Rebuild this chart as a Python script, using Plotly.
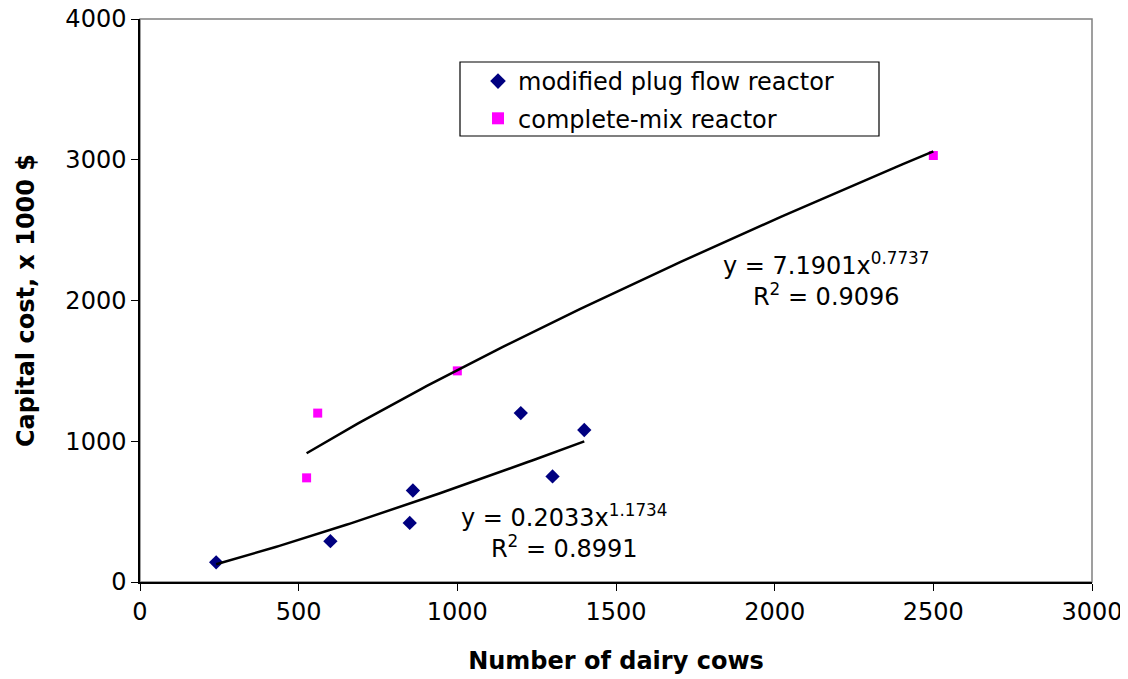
import numpy as np
import plotly.graph_objects as go

# Data
pfr_cows = [240, 600, 850, 860, 1200, 1300, 1400]
pfr_cost = [140, 290, 420, 650, 1200, 750, 1080]
cmr_cows = [525, 560, 1000, 2500]
cmr_cost = [740, 1200, 1500, 3030]

# Power trendlines as printed on the chart: y = a * x^b
pfr_a, pfr_b, pfr_r2 = 0.2033, 1.1734, 0.8991
cmr_a, cmr_b, cmr_r2 = 7.1901, 0.7737, 0.9096

x_ticks = [0, 500, 1000, 1500, 2000, 2500, 3000]
y_ticks = [0, 1000, 2000, 3000, 4000]

FONT = "DejaVu Sans, Verdana, sans-serif"
FS = 24

fig = go.Figure()

fig.add_trace(go.Scatter(
    x=pfr_cows, y=pfr_cost, mode="markers", name="modified plug flow reactor",
    legendgroup="a",
    marker=dict(symbol="diamond", size=11, color="#000080"),
))
fig.add_trace(go.Scatter(
    x=cmr_cows, y=cmr_cost, mode="markers", name="complete-mix reactor",
    legendgroup="b",
    marker=dict(symbol="square", size=9, color="#FF00FF"),
))

xp = np.linspace(min(pfr_cows), max(pfr_cows), 100)
fig.add_trace(go.Scatter(x=xp, y=pfr_a * xp ** pfr_b, mode="lines",
                         line=dict(color="black", width=2.5), showlegend=False,
                         hoverinfo="skip"))
xc = np.linspace(min(cmr_cows), max(cmr_cows), 100)
fig.add_trace(go.Scatter(x=xc, y=cmr_a * xc ** cmr_b, mode="lines",
                         line=dict(color="black", width=2.5), showlegend=False,
                         hoverinfo="skip"))

ann_font = dict(family=FONT, size=FS, color="black")
fig.add_annotation(x=2162, y=2146, xref="x", yref="y", showarrow=False, align="center",
                   text=f"y = {cmr_a}x<sup>{cmr_b}</sup><br>R<sup>2</sup> = {cmr_r2}",
                   font=ann_font, yanchor="middle", xanchor="center")
fig.add_annotation(x=1336, y=362, xref="x", yref="y", showarrow=False, align="center",
                   text=f"y = {pfr_a}x<sup>{pfr_b}</sup><br>R<sup>2</sup> = {pfr_r2}",
                   font=ann_font, yanchor="middle", xanchor="center")

# plot area border and legend box
fig.add_shape(type="rect", xref="paper", yref="paper", x0=0, y0=0, x1=1, y1=1,
              line=dict(color="#808080", width=1.5), layer="below")
fig.add_shape(type="rect", xref="paper", yref="paper",
              x0=(460 - 140) / 952, x1=(879 - 140) / 952,
              y0=(582 - 136) / 563, y1=(582 - 62) / 563,
              line=dict(color="black", width=1.2), fillcolor="white", layer="below")

# page body has an 8px margin; compensate so the plot area sits at 140..1092 x 19..582
fig.update_layout(
    width=1120, height=671,
    margin=dict(l=132, r=36, t=11, b=97),
    paper_bgcolor="white", plot_bgcolor="white",
    font=dict(family=FONT, size=FS, color="black"),
    legend=dict(x=(478 - 140) / 952, y=(582 - 59) / 563, xanchor="left", yanchor="top",
                bgcolor="rgba(0,0,0,0)", borderwidth=0,
                font=dict(family=FONT, size=FS), itemsizing="constant",
                tracegroupgap=3),
    xaxis=dict(range=[0, 3000], tickvals=x_ticks, ticks="outside", ticklen=7,
               tickcolor="black", showline=True, linecolor="black", linewidth=1.5,
               showgrid=False, zeroline=False, automargin=False,
               ticklabeloverflow="allow",
               title=dict(text="<b>Number of dairy cows</b>", font=dict(size=FS), standoff=28),
               tickfont=dict(size=FS)),
    yaxis=dict(range=[0, 4000], tickvals=y_ticks, ticks="outside", ticklen=7,
               tickcolor="black", showline=True, linecolor="black", linewidth=1.5,
               showgrid=False, zeroline=False, automargin=False,
               ticklabeloverflow="allow",
               title=dict(text="<b>Capital cost, x 1000 $</b>", font=dict(size=FS), standoff=24),
               tickfont=dict(size=FS)),
)

fig.write_html("out.html")
